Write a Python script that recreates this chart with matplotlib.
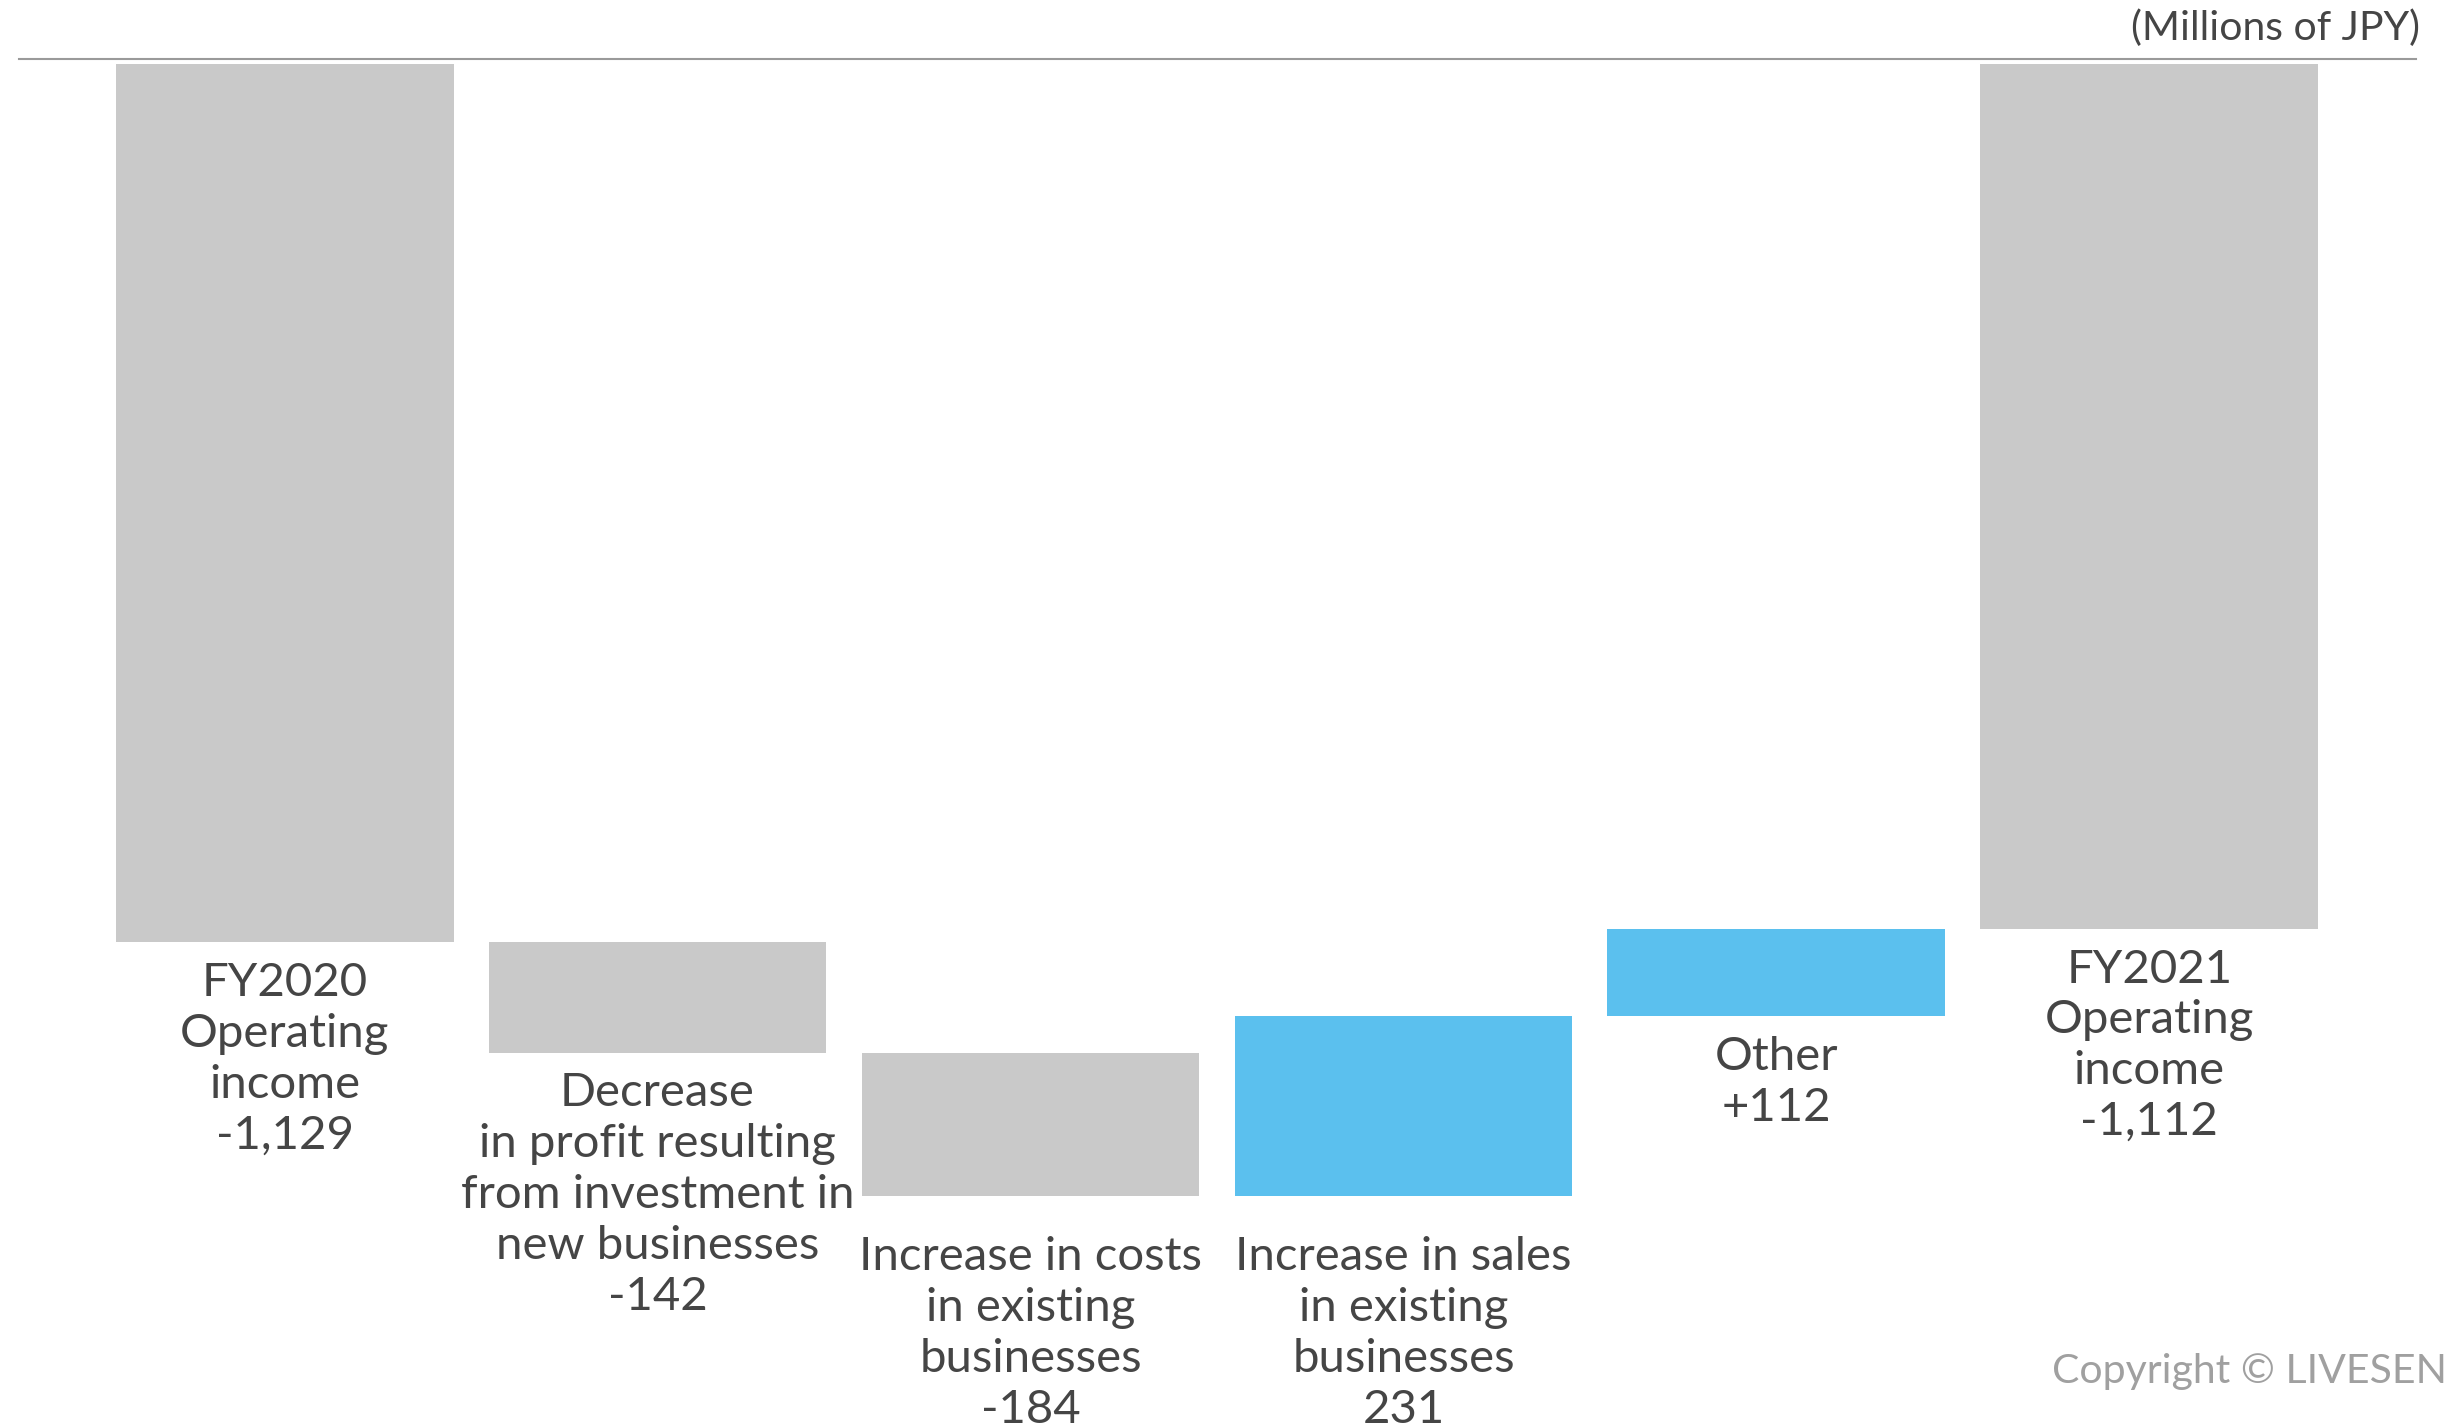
import numpy as np
import matplotlib.pyplot as plt

# operating income bridge, FY2020 -> FY2021 (millions of JPY)
labels = [
    "FY2020\nOperating\nincome",
    "Decrease\nin profit resulting\nfrom investment in\nnew businesses",
    "Increase in costs\nin existing\nbusinesses",
    "Increase in sales\nin existing\nbusinesses",
    "Other",
    "FY2021\nOperating\nincome",
]
values = [-1129, -142, -184, 231, 112, -1112]
value_text = ["-1,129", "-142", "-184", "231", "+112", "-1,112"]
is_total = [True, False, False, False, False, True]

GRAY = "#c9c9c9"
BLUE = "#5bc0ee"
TEXT = "#454545"

plt.rcParams['font.family'] = ['Lato', 'DejaVu Sans']

fig = plt.figure(figsize=(24.5, 14.28), dpi=100)
ax = fig.add_axes([0, 0, 1, 1])
ax.set_xlim(-0.763, 5.806)
ax.set_ylim(-1753, 82)
ax.axis('off')

# running totals for the waterfall
bottoms = []
run = 0
for v, tot in zip(values, is_total):
    if tot:
        bottoms.append(0)
        run = v
    else:
        bottoms.append(run)
        run += v
bottoms = np.array(bottoms)
vals = np.array(values)

colors = [BLUE if (v > 0 and not t) else GRAY for v, t in zip(values, is_total)]
x = np.arange(len(values))
ax.bar(x, vals, bottom=bottoms, width=0.906, color=colors, linewidth=0)

# baseline at zero
ax.axhline(6.5, xmin=19 / 2450, xmax=2416 / 2450, color="#9a9a9a", lw=1.5)

# extra gap under the two taller middle labels
pads = [14, 14, 29, 29, 14, 14]
for i in range(len(values)):
    low = min(bottoms[i], bottoms[i] + vals[i])
    ax.annotate(labels[i] + "\n" + value_text[i], (x[i], low),
                xytext=(0, -pads[i]), textcoords='offset points',
                ha='center', va='top', fontsize=34, color=TEXT,
                linespacing=1.26, annotation_clip=False)

fig.text(2420 / 2450, 1 - 28 / 1428, "(Millions of JPY)", ha='right', va='center',
         fontsize=29.5, color=TEXT)
fig.text(2447 / 2450, 1 - 1372 / 1428, "Copyright \u00a9 LIVESEN", ha='right',
         va='center', fontsize=29.5, color="#a0a0a0")

fig.savefig("out.png", dpi=100)
